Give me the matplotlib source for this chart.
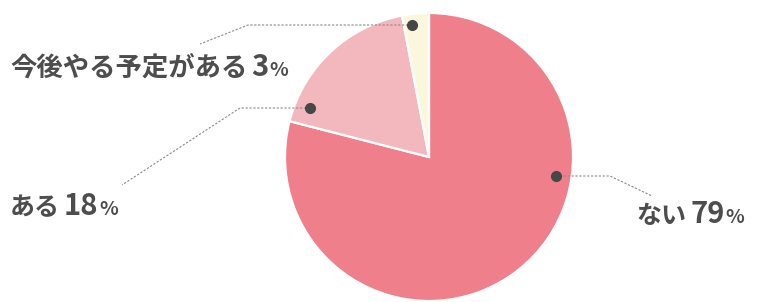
import matplotlib
matplotlib.use("Agg")
from matplotlib import pyplot as plt

plt.rcParams['font.family'] = ['Noto Sans CJK JP', 'DejaVu Sans']

# data
labels = ['ない', 'ある', '今後やる予定がある']
values = [79, 18, 3]
colors = ['#ee7f8b', '#f2b8be', '#faf7dc']

W, H = 758, 302
text_color = '#4d4d4d'
line_color = '#8a8a8a'

fig = plt.figure(figsize=(W / 100, H / 100), dpi=100)
ax = fig.add_axes([0, 0, 1, 1])

cx, cy, r = 429, H - 157, 144
ax.pie(values, colors=colors, startangle=90, counterclock=False,
       center=(cx, cy), radius=r,
       wedgeprops=dict(edgecolor='white', linewidth=1.6))
ax.set_xlim(0, W)
ax.set_ylim(0, H)
ax.set_aspect('equal')
ax.axis('off')

# leader lines: dot, then polyline (image pixel coords, y down)
leaders = {
    'ない': [(556, 176), (610, 176), (652, 196)],
    'ある': [(310, 108), (240, 108), (122, 185)],
    '今後やる予定がある': [(412, 25), (248, 25), (200, 44)],
}
# label anchor: left x, vertical centre y, kana size
label_pos = {
    'ない': (636, 213, 18),
    'ある': (10, 205, 18),
    '今後やる予定がある': (10, 66, 19),
}

for lab, pts in leaders.items():
    xs = [p[0] for p in pts]
    ys = [H - p[1] for p in pts]
    ax.plot(xs, ys, color=line_color, lw=0.8, ls=(0, (2, 1.5)), zorder=3)
    ax.plot(xs[0], ys[0], 'o', color='#474747', ms=7, zorder=4)

renderer = fig.canvas.get_renderer()


def put(x, y, s, size):
    t = ax.text(x, y, s, fontsize=size, fontweight='bold', color=text_color,
                ha='left', va='baseline')
    bb = t.get_window_extent(renderer)
    return bb.x1


for lab, v in zip(labels, values):
    x0, yc, fs = label_pos[lab]
    base = H - yc - 10
    x = put(x0, base, lab, fs)
    x = put(x + 4, base, str(v), 21)
    put(x + 1, base, '%', 14)

fig.savefig('out.png', dpi=100)
